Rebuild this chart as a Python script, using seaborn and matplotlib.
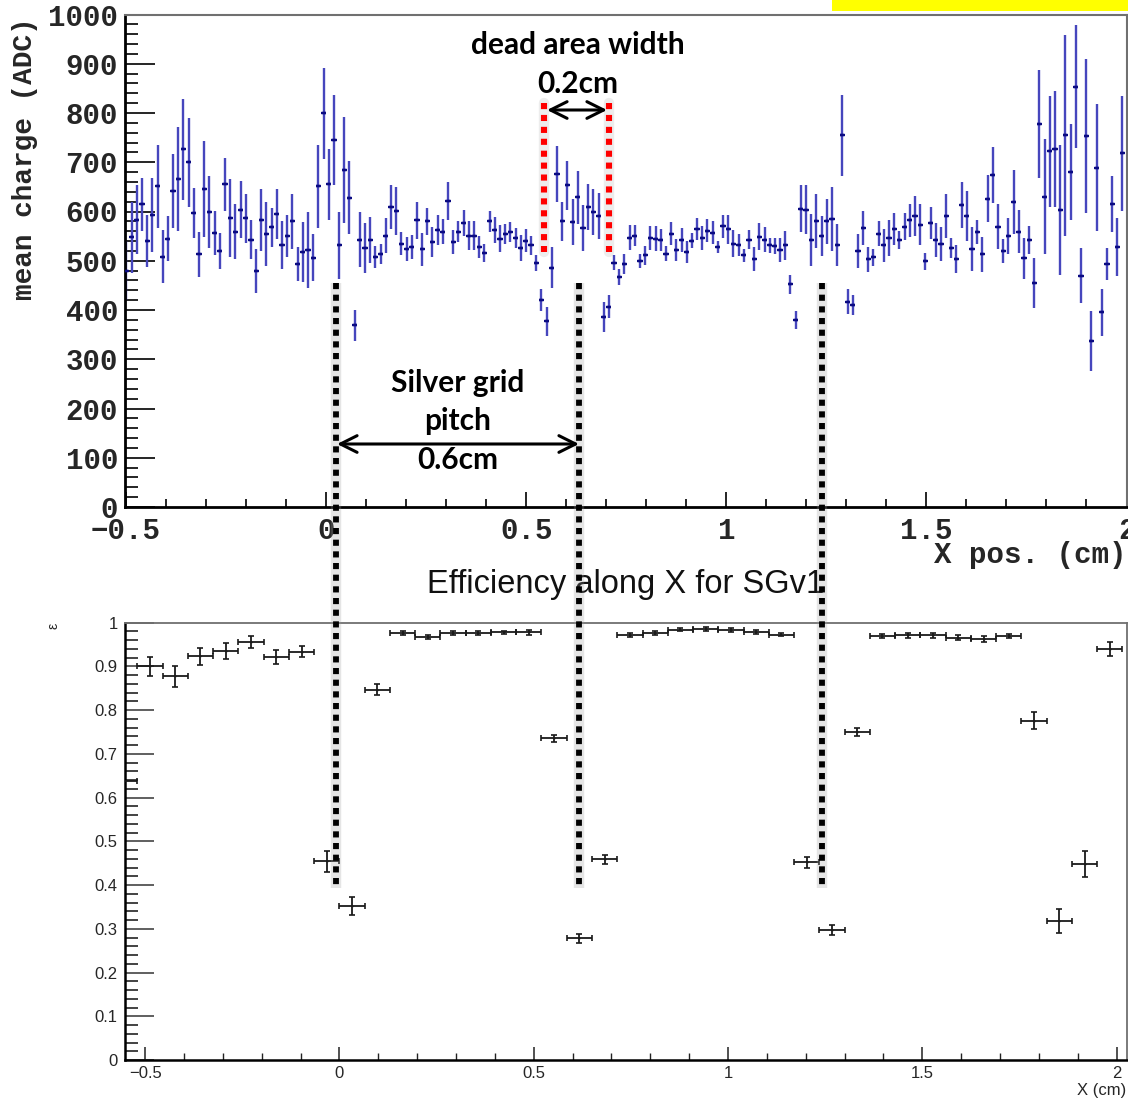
import numpy as np
import pandas as pd
import matplotlib
matplotlib.use("Agg")
import matplotlib.pyplot as plt
import seaborn as sns
from matplotlib.lines import Line2D
from matplotlib.patches import Rectangle, FancyArrowPatch
from matplotlib.ticker import MultipleLocator, FuncFormatter

# ---------------- data: mean charge vs X position (top panel) ----------------
charge = [480, 548, 583, 615, 540, 593, 651, 508, 545, 641,
          666, 726, 700, 597, 513, 646, 599, 557, 520, 655,
          586, 559, 604, 586, 543, 479, 582, 555, 568, 595,
          532, 550, 580, 493, 518, 522, 506, 651, 799, 655,
          745, 531, 684, 628, 369, 543, 526, 542, 508, 514,
          551, 609, 601, 535, 524, 528, 582, 523, 580, 538,
          562, 559, 621, 538, 559, 577, 551, 551, 528, 516,
          580, 562, 545, 555, 559, 546, 526, 541, 531, 496,
          420, 377, 486, 676, 580, 653, 578, 629, 567, 609,
          599, 591, 386, 407, 496, 467, 493, 547,
          551, 499, 511, 546, 545, 542, 514, 555, 522, 542,
          518, 541, 564, 546, 561, 557, 528, 570, 564, 535,
          532, 511, 543, 504, 549, 543, 531, 530, 522, 531,
          452, 379, 606, 604, 542, 580, 550, 580, 584, 532,
          755, 417, 410, 520, 566, 503, 507, 555,
          531, 546, 564, 542, 569, 582, 591, 573, 499, 577,
          542, 534, 591, 526, 504, 613, 591, 524, 559, 513,
          626, 674, 569, 520, 550, 620, 559, 505, 542, 455,
          778, 630, 722, 727, 604, 755, 680, 853, 470, 753,
          337, 689, 395, 493, 616, 528, 718]
charge_err = [60, 72, 70, 54, 52, 75, 84, 54, 45, 75,
              106, 103, 90, 50, 45, 97, 73, 45, 36, 53,
              79, 56, 57, 50, 39, 44, 63, 65, 40, 50,
              49, 42, 56, 34, 61, 77, 48, 85, 92, 72,
              91, 69, 107, 74, 32, 56, 50, 46, 22, 20,
              36, 45, 49, 23, 25, 24, 37, 34, 28, 30,
              30, 25, 39, 25, 21, 27, 29, 30, 23, 18,
              21, 26, 28, 20, 20, 21, 26, 24, 19, 16,
              22, 29, 42, 56, 40, 49, 47, 54, 47, 46,
              47, 46, 30, 24, 15, 17, 20, 25,
              21, 14, 19, 24, 25, 23, 15, 23, 22, 25,
              22, 15, 22, 24, 23, 23, 13, 23, 29, 27,
              23, 13, 20, 24, 28, 26, 16, 17, 24, 30,
              20, 18, 47, 50, 53, 55, 40, 45, 65, 43,
              82, 26, 21, 35, 35, 25, 17, 26,
              33, 36, 32, 19, 27, 33, 41, 42, 17, 32,
              34, 35, 44, 20, 28, 46, 51, 45, 24, 35,
              48, 57, 46, 25, 36, 65, 44, 42, 29, 51,
              110, 117, 113, 117, 132, 204, 97, 125, 55, 157,
              60, 129, 48, 32, 57, 58, 117]
charge_x_first, charge_x_last = -0.499, 1.990   # first / last bin centre (cm)

# ---------------- data: efficiency vs X (bottom panel) ----------------
eff = [0.900, 0.877, 0.923, 0.936, 0.956, 0.921, 0.934, 0.454, 0.352, 0.847,
       0.976, 0.967, 0.976, 0.976, 0.978, 0.978, 0.736, 0.278, 0.459, 0.9725,
       0.976, 0.984, 0.986, 0.983, 0.979, 0.9725, 0.452, 0.297, 0.750, 0.970,
       0.971, 0.971, 0.966, 0.963, 0.970, 0.776, 0.318, 0.448, 0.940]
eff_err = [0.022, 0.023, 0.020, 0.018, 0.013, 0.016, 0.013, 0.024, 0.020, 0.013,
           0.005, 0.005, 0.005, 0.005, 0.004, 0.005, 0.008, 0.010, 0.010, 0.005,
           0.005, 0.004, 0.004, 0.004, 0.004, 0.004, 0.012, 0.012, 0.010, 0.005,
           0.005, 0.005, 0.005, 0.006, 0.005, 0.019, 0.027, 0.030, 0.016]
eff_x_first, eff_bin = -0.4875, 0.065
edge_x, edge_eff = -0.5525, 0.638

# ---------------- style ----------------
sns.set_theme(style="ticks")
plt.rcParams["font.family"] = ["Liberation Sans", "DejaVu Sans"]
MONO = ["Liberation Mono", "DejaVu Sans Mono"]
ANNOT = ["Lato", "DejaVu Sans"]

W, H = 1128, 1100
fig = plt.figure(figsize=(W / 100, H / 100), dpi=100)
fig.patch.set_facecolor("white")

def px_rect(l, t, r, b):
    return [l / W, 1 - b / H, (r - l) / W, (b - t) / H]

ax1 = fig.add_axes(px_rect(125, 14.5, 1126.5, 507))
ax2 = fig.add_axes(px_rect(124.5, 622.7, 1126.7, 1060))
for ax in (ax1, ax2):
    ax.set_facecolor("white")

# ---------------- top panel ----------------
n = len(charge)
df_top = pd.DataFrame({
    "x": np.linspace(charge_x_first, charge_x_last, n),
    "charge": charge,
    "err": charge_err,
})
half_bin = (charge_x_last - charge_x_first) / (n - 1) / 2
ax1.errorbar(df_top["x"], df_top["charge"], yerr=df_top["err"], fmt="none",
             ecolor="#4646bd", elinewidth=1.7, capsize=0, zorder=2)
ax1.errorbar(df_top["x"], df_top["charge"], xerr=half_bin, fmt="none",
             ecolor="#0b0b82", elinewidth=1.7, capsize=0, zorder=3)
sns.scatterplot(data=df_top, x="x", y="charge", marker="_", s=12,
                color="#0b0b82", linewidth=1.7, ax=ax1, legend=False, zorder=3)

ax1.set_xlim(-0.5025, 2.0)
ax1.set_ylim(0, 1000)
ax1.xaxis.set_major_locator(MultipleLocator(0.5))
ax1.xaxis.set_minor_locator(MultipleLocator(0.1))
ax1.yaxis.set_major_locator(MultipleLocator(100))
ax1.yaxis.set_minor_locator(MultipleLocator(20))
ax1.xaxis.set_major_formatter(FuncFormatter(lambda v, p: f"{v:g}".replace("-", "\u2212")))
ax1.tick_params(axis="y", which="major", direction="in", length=21.5, width=1.2,
                color="black", pad=5, labelsize=21)
ax1.tick_params(axis="y", which="minor", direction="in", length=9.5, width=1.2, color="black")
ax1.tick_params(axis="x", which="major", direction="in", length=11, width=1.2,
                color="black", pad=7, labelsize=21)
ax1.tick_params(axis="x", which="minor", direction="in", length=5.5, width=1.2, color="black")
ax1.tick_params(top=False, right=False, which="both")
plt.setp(ax1.get_xticklabels() + ax1.get_yticklabels(), family=MONO, weight="bold")

ax1.set_xlabel("X pos. (cm)", family=MONO, weight="bold", fontsize=21, loc="right")
ax1.xaxis.set_label_coords(1.0, -0.07)
ax1.set_ylabel("mean charge (ADC)", family=MONO, weight="bold", fontsize=20, loc="top")
ax1.yaxis.set_label_coords(-0.087, 0.995)

for side in ("left", "bottom"):
    ax1.spines[side].set_color("black")
    ax1.spines[side].set_linewidth(2.0)
for side in ("top", "right"):
    ax1.spines[side].set_color("#707070")
    ax1.spines[side].set_linewidth(1.5)

# ---------------- bottom panel ----------------
df_eff = pd.DataFrame({
    "x": eff_x_first + eff_bin * np.arange(len(eff)),
    "eff": eff,
    "err": eff_err,
})
ax2.errorbar(df_eff["x"], df_eff["eff"], yerr=df_eff["err"], xerr=eff_bin / 2,
             fmt="none", ecolor="#1a1a1a", elinewidth=1.3, capsize=2.4,
             capthick=1.2, zorder=3)
ax2.errorbar([edge_x], [edge_eff], xerr=eff_bin / 2, fmt="none", ecolor="#1a1a1a",
             elinewidth=1.3, capsize=2.4, capthick=1.2, zorder=3)
sns.scatterplot(data=df_eff, x="x", y="eff", marker="_", s=4, color="#1a1a1a",
                linewidth=1.0, ax=ax2, legend=False, zorder=3)

ax2.set_xlim(-0.553, 2.026)
ax2.set_ylim(0, 1)
ax2.xaxis.set_major_locator(MultipleLocator(0.5))
ax2.xaxis.set_minor_locator(MultipleLocator(0.1))
ax2.yaxis.set_major_locator(MultipleLocator(0.1))
ax2.yaxis.set_minor_locator(MultipleLocator(0.02))
ax2.xaxis.set_major_formatter(FuncFormatter(lambda v, p: f"{v:g}".replace("-", "\u2212")))
ax2.yaxis.set_major_formatter(FuncFormatter(lambda v, p: f"{v:g}"))
ax2.tick_params(axis="y", which="major", direction="in", length=21, width=1.2,
                color="#444444", pad=5, labelsize=12)
ax2.tick_params(axis="y", which="minor", direction="in", length=9.5, width=1.2, color="#222222")
ax2.tick_params(axis="x", which="major", direction="in", length=9.5, width=1.1,
                color="#222222", pad=4, labelsize=12)
ax2.tick_params(axis="x", which="minor", direction="in", length=5, width=1.0, color="#222222")
ax2.tick_params(top=False, right=False, which="both")

ax2.set_xlabel("X (cm)", fontsize=12, loc="right")
ax2.xaxis.set_label_coords(1.0, -0.052)
ax2.set_ylabel("\u03b5", fontsize=10, loc="top")
ax2.yaxis.set_label_coords(-0.064, 1.0)
ax2.text(0.5, 1.087, "Efficiency along X for SGv1", transform=ax2.transAxes,
         ha="center", va="center", fontsize=23.5, color="#111111")

for side in ("left", "bottom"):
    ax2.spines[side].set_color("black")
    ax2.spines[side].set_linewidth(1.8)
for side in ("top", "right"):
    ax2.spines[side].set_color("#707070")
    ax2.spines[side].set_linewidth(1.3)

# ---------------- annotations ----------------
def fx(px):
    return px / W

def fy(py):
    return 1 - py / H

# black dotted lines spanning both panels (strip pitch)
for xpx in (336, 579, 822):
    fig.add_artist(Line2D([fx(xpx)] * 2, [fy(283), fy(888)], transform=fig.transFigure,
                          color="#9a9a9a", lw=7.5, alpha=0.25, solid_capstyle="butt", zorder=9))
    fig.add_artist(Line2D([fx(xpx)] * 2, [fy(283), fy(888)], transform=fig.transFigure,
                          color="black", lw=4.2, linestyle=(0, (1.05, 0.95)),
                          dash_capstyle="butt", zorder=10))

# red dotted lines (dead area)
for xpx in (544, 609):
    fig.add_artist(Line2D([fx(xpx)] * 2, [fy(103), fy(252)], transform=fig.transFigure,
                          color="#bbbbbb", lw=7.5, alpha=0.25, zorder=9))
    fig.add_artist(Line2D([fx(xpx)] * 2, [fy(103), fy(252)], transform=fig.transFigure,
                          color="#ff0000", lw=4.4, linestyle=(0, (1.0, 0.95)),
                          dash_capstyle="butt", zorder=10))

arrow_kw = dict(arrowstyle="<->,head_length=0.6,head_width=0.3", color="black", lw=2.2,
                shrinkA=0, shrinkB=0, mutation_scale=20)
fig.add_artist(FancyArrowPatch((fx(547), fy(110)), (fx(607), fy(110)),
                               transform=fig.transFigure, zorder=11, **arrow_kw))
fig.add_artist(FancyArrowPatch((fx(337), fy(444)), (fx(579), fy(444)),
                               transform=fig.transFigure, zorder=11, **arrow_kw))

txt_kw = dict(family=ANNOT, weight="bold", fontsize=21.5, ha="center", va="center",
              color="black", zorder=12)
fig.text(fx(578), fy(45), "dead area width", **txt_kw)
fig.text(fx(578), fy(84), "0.2cm", **txt_kw)
fig.text(fx(458), fy(383), "Silver grid", **txt_kw)
fig.text(fx(458), fy(421), "pitch", **txt_kw)
fig.text(fx(458), fy(460), "0.6cm", **txt_kw)

# yellow highlight strip at top right
fig.add_artist(Rectangle((fx(832), fy(10.5)), fx(1128) - fx(832), 10.5 / H,
                         transform=fig.transFigure, facecolor="#ffff00", edgecolor="none",
                         zorder=12))

fig.savefig("out.png", dpi=100, facecolor="white")
